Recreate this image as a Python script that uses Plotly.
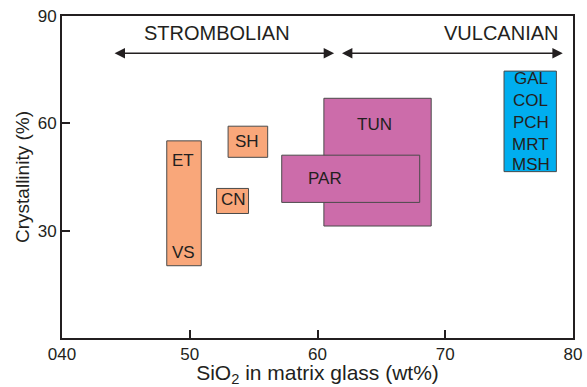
import plotly.graph_objects as go

# Data: ranges of SiO2 (x) and crystallinity (y) per volcano
names = ["ET", "SH", "CN", "TUN", "PAR", "MULTI"]
x0 = [48.2, 53.0, 52.1, 60.5, 57.2, 74.6]
x1 = [50.9, 56.1, 54.6, 68.9, 68.0, 78.7]
y0 = [20.2, 50.5, 34.8, 31.3, 37.9, 46.5]
y1 = [55.1, 59.2, 41.8, 67.0, 51.1, 74.6]
groups = ["str", "str", "str", "vul", "vul", "blue"]
colors = {"str": "#F9A77A", "vul": "#CC6CAA", "blue": "#00AEEF"}

labels = ["ET", "VS", "SH", "CN", "TUN", "PAR", "GAL", "COL", "PCH", "MRT", "MSH"]
label_x = [49.5, 49.5, 54.5, 53.4, 64.5, 60.6, 76.7, 76.7, 76.7, 76.7, 76.7]
label_y = [49.7, 23.8, 54.8, 38.6, 59.8, 44.7, 72.4, 66.3, 60.3, 54.2, 48.6]

regimes = ["STROMBOLIAN", "VULCANIAN"]
regime_text_x = [52.1, 79.0]
regime_anchor = ["center", "right"]
regime_from = [44.0, 61.8]
regime_to = [61.3, 79.2]
regime_arrow_y = 79.6
regime_text_y = 85.2

x_ticks = [40, 50, 60, 70, 80]
x_tick_text = ["040", "50", "60", "70", "80"]
y_ticks = [30, 60, 90]

ink = "#231F20"
font = "Liberation Sans, Arial, sans-serif"

fig = go.Figure()
fig.add_trace(go.Scatter(x=[40, 80], y=[0, 90], mode="markers",
                         marker=dict(opacity=0), showlegend=False, hoverinfo="skip"))

shapes = []
for i in range(len(names)):
    shapes.append(dict(type="rect", xref="x", yref="y",
                       x0=x0[i], x1=x1[i], y0=y0[i], y1=y1[i],
                       fillcolor=colors[groups[i]],
                       line=dict(color="#4a4a4a", width=1), layer="above"))

annotations = []
for t, lx, ly in zip(labels, label_x, label_y):
    annotations.append(dict(x=lx, y=ly, xref="x", yref="y", text=t, showarrow=False,
                            font=dict(family=font, size=17, color=ink)))
for i in range(2):
    annotations.append(dict(x=regime_text_x[i], y=regime_text_y, xref="x", yref="y",
                            text=regimes[i], showarrow=False, xanchor=regime_anchor[i],
                            font=dict(family=font, size=20, color=ink)))
    annotations.append(dict(x=regime_to[i], y=regime_arrow_y, xref="x", yref="y",
                            ax=regime_from[i], ay=regime_arrow_y, axref="x", ayref="y",
                            text="", showarrow=True, arrowhead=2, arrowside="end+start",
                            arrowsize=1.3, arrowwidth=1.6, arrowcolor=ink,
                            standoff=0, startstandoff=0))

fig.update_layout(
    width=587, height=387,
    margin=dict(l=62, r=14, t=16, b=49),
    plot_bgcolor="white", paper_bgcolor="white",
    shapes=shapes, annotations=annotations,
    showlegend=False,
    font=dict(family=font, color=ink),
    xaxis=dict(range=[40, 80], tickvals=x_ticks, ticktext=x_tick_text,
               ticks="inside", ticklen=8, tickwidth=1.5, tickcolor=ink,
               showline=True, linewidth=2, linecolor=ink, mirror=True,
               showgrid=False, zeroline=False, automargin=False,
               tickfont=dict(family=font, size=17, color=ink),
               title=dict(text="SiO<sub>2</sub> in matrix glass (wt%)", standoff=2,
                          font=dict(family=font, size=21, color=ink))),
    yaxis=dict(range=[0, 90], tickvals=y_ticks,
               ticks="inside", ticklen=8, tickwidth=1.5, tickcolor=ink,
               showline=True, linewidth=2, linecolor=ink, mirror=True,
               showgrid=False, zeroline=False, automargin=False,
               tickfont=dict(family=font, size=17, color=ink),
               title=dict(text="Crystallinity (%)", standoff=3,
                          font=dict(family=font, size=19, color=ink))),
)

fig.write_html("out.html", config={"displayModeBar": False},
               post_script="document.body.style.margin='0';document.body.style.padding='0';")
